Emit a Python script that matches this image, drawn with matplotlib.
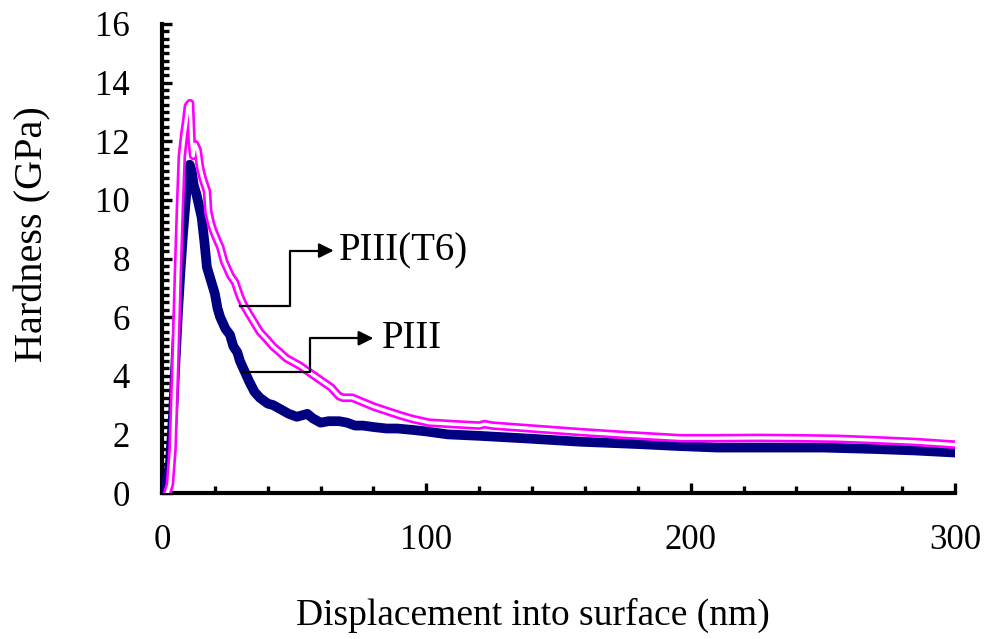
import matplotlib
matplotlib.use("Agg")
import matplotlib.pyplot as plt
from matplotlib.ticker import MultipleLocator

# PIII (navy, thick)
piii_x = [0.5, 1.5, 3, 4.2, 5, 6, 7, 8, 9, 9.8, 10.5, 11.2, 12, 13, 14, 15, 16, 17, 18, 19,
          20, 21, 22, 23, 24, 25.7, 27, 28.5, 29.5, 31, 33, 35, 37, 40, 42, 45, 48, 51, 53, 55,
          57, 60, 63, 67, 70, 73, 76, 80, 85, 89, 95, 100, 108, 120, 140, 158, 180, 196, 210,
          230, 250, 270, 285, 300]
piii_y = [0.0, 0.3, 1.0, 2.7, 4.3, 6.1, 7.6, 8.9, 10.0, 10.8, 11.2, 11.0, 10.5, 10.2, 9.8, 9.4,
          8.6, 7.7, 7.4, 7.1, 6.8, 6.3, 6.0, 5.8, 5.6, 5.4, 5.0, 4.8, 4.5, 4.2, 3.8, 3.45, 3.25,
          3.05, 3.0, 2.85, 2.7, 2.6, 2.65, 2.7, 2.55, 2.4, 2.45, 2.45, 2.4, 2.3, 2.3, 2.25, 2.2,
          2.2, 2.15, 2.1, 2.0, 1.95, 1.85, 1.75, 1.67, 1.6, 1.55, 1.55, 1.55, 1.5, 1.45, 1.38]

# PIII(T6) (magenta, double line)
t6_x = [2, 3, 4, 5, 6, 6.8, 7.5, 8.5, 9.0, 9.8, 10.6, 11.2, 11.8, 12.5, 13.5, 14.4, 15.5, 17,
        17.5, 18.5, 19.4, 21, 22, 23.5, 24.5, 26, 27.6, 29.5, 31, 33.3, 35, 37, 39.6, 42, 44.6,
        47, 50, 52, 56, 60, 64, 67, 68.5, 72, 76, 80, 85, 90, 95, 101, 110, 120, 122, 125, 140,
        158, 175, 196, 210, 226, 240, 255, 270, 285, 300]
t6_y = [0.0, 0.3, 1.5, 4.3, 7.5, 9.8, 11.5, 12.3, 12.6, 13.2, 13.3, 12.0, 11.5, 11.9, 11.7,
        11.1, 10.7, 10.3, 9.6, 9.2, 8.95, 8.6, 8.4, 7.9, 7.7, 7.4, 7.2, 6.7, 6.4, 6.05, 5.8, 5.5,
        5.25, 5.0, 4.8, 4.6, 4.45, 4.35, 4.1, 3.85, 3.6, 3.3, 3.25, 3.25, 3.1, 2.95, 2.8, 2.65,
        2.52, 2.4, 2.35, 2.3, 2.35, 2.3, 2.2, 2.08, 1.98, 1.87, 1.87, 1.88, 1.87, 1.85, 1.8,
        1.74, 1.65]

x_ticks = [0, 100, 200, 300]
y_ticks = [0, 2, 4, 6, 8, 10, 12, 14, 16]
label_t6 = "PIII(T6)"
label_piii = "PIII"

plt.rcParams['font.family'] = ['Liberation Serif', 'DejaVu Serif']

fig = plt.figure(figsize=(9.87, 6.39), dpi=100)
ax = fig.add_axes([162/987, 1-493/639, (955-162)/987, (493-24)/639])

ax.plot(piii_x, piii_y, color='#000080', lw=7, solid_joinstyle='round', zorder=3)
ax.plot(t6_x, t6_y, color='#FF00FF', lw=6.2, solid_joinstyle='round', zorder=4)
ax.plot(t6_x, t6_y, color='white', lw=2.4, solid_joinstyle='round', zorder=5)

ax.set_xlim(0, 300)
ax.set_ylim(0, 16)
ax.set_xticks(x_ticks)
ax.set_yticks(y_ticks)
ax.xaxis.set_minor_locator(MultipleLocator(20))
ax.yaxis.set_minor_locator(MultipleLocator(0.25))
ax.tick_params(which='both', direction='in', width=2.4, labelsize=25)
ax.tick_params(which='major', length=7.5)
ax.tick_params(which='minor', length=5)
ax.tick_params(axis='x', which='major', pad=22)
ax.tick_params(axis='y', which='major', pad=23)
for s in ['top', 'right']:
    ax.spines[s].set_visible(False)
for s in ['left', 'bottom']:
    ax.spines[s].set_linewidth(3)

# annotations
ax.plot([29.5, 48.4, 48.4, 63], [6.37, 6.37, 8.27, 8.27], color='black', lw=1.6, zorder=6)
ax.annotate('', xy=(66, 8.27), xytext=(62, 8.27),
            arrowprops=dict(arrowstyle='-|>', color='black', lw=1.6, mutation_scale=22), zorder=6)
ax.text(67.0, 8.27, label_t6, fontsize=28, va='center', ha='left')

ax.plot([30.3, 56, 56, 77], [4.12, 4.12, 5.28, 5.28], color='black', lw=1.6, zorder=6)
ax.annotate('', xy=(81, 5.28), xytext=(76, 5.28),
            arrowprops=dict(arrowstyle='-|>', color='black', lw=1.6, mutation_scale=22), zorder=6)
ax.text(83.0, 5.28, label_piii, fontsize=28, va='center', ha='left')

fig.text(33/987, 1-234/639, 'Hardness (GPa)', rotation=90, fontsize=29, ha='center', va='center')
fig.text(533/987, 1-615/639, 'Displacement into surface (nm)', fontsize=27, ha='center', va='center')

fig.savefig('out.png', dpi=100)
